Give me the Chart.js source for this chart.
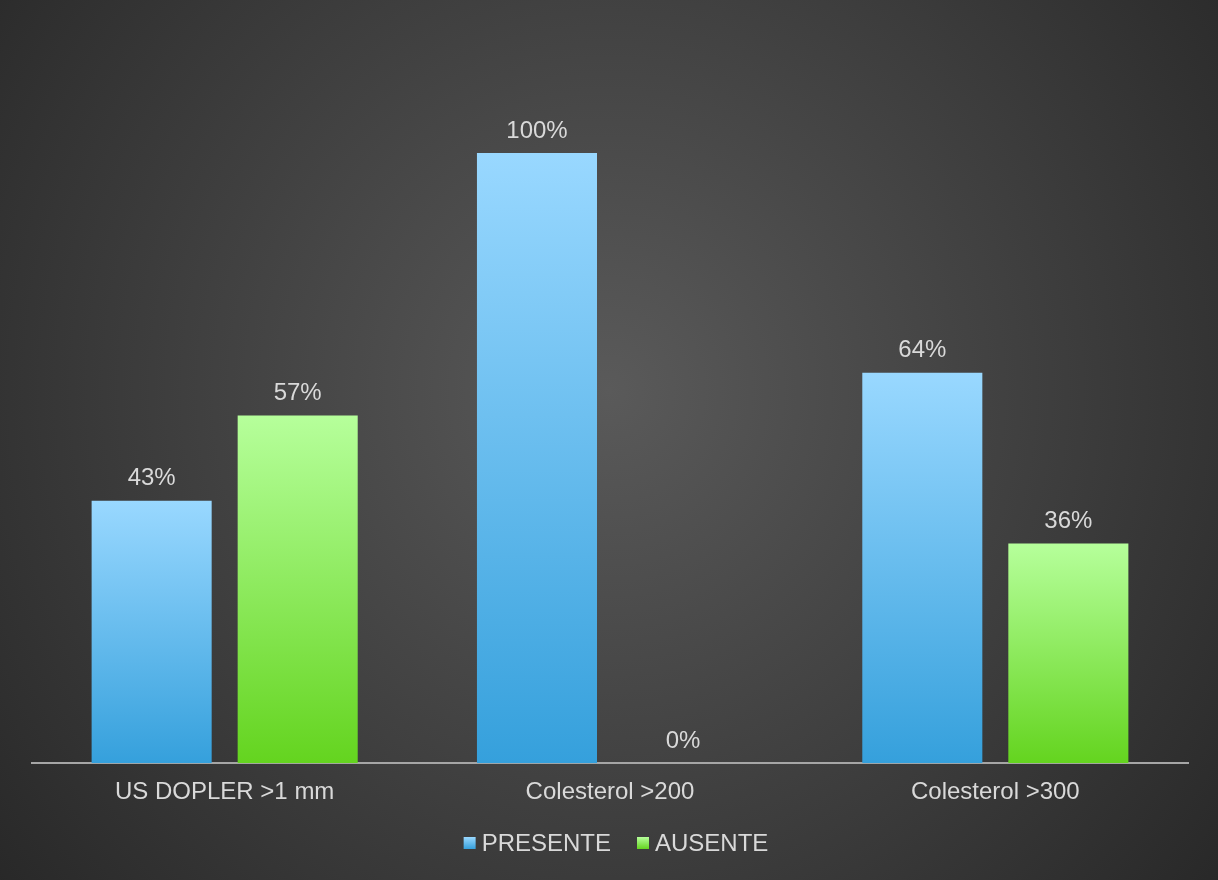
<!DOCTYPE html>
<html>
<head>
<meta charset="utf-8">
<script src="https://cdn.jsdelivr.net/npm/chart.js@4.4.0/dist/chart.umd.min.js"></script>
<style>
  body { margin: 0; background: #2a2a2a; }
  #wrap { width: 1218px; height: 880px; }
</style>
</head>
<body>
<div id="wrap"><canvas id="myChart" width="1218" height="880"></canvas></div>
<script>
// chart data
var categories = ["US DOPLER >1 mm", "Colesterol >200", "Colesterol >300"];
var presente = [43, 100, 64];
var ausente = [57, 0, 36];
var seriesNames = ["PRESENTE", "AUSENTE"];

var textColor = "#d9d9d9";
var fontStr = "24px 'Liberation Sans', Arial, sans-serif";
var blueStops = ["#99d8ff", "#35a0dc"];
var greenStops = ["#b6ff9b", "#64d41f"];
Chart.defaults.font.family = "'Liberation Sans', Arial, sans-serif";
Chart.defaults.font.size = 24;
Chart.defaults.color = textColor;

// each bar gets its own top->bottom gradient
function barGradient(stops) {
  return function (ctx) {
    var chart = ctx.chart;
    if (!chart.chartArea || ctx.type !== "data") return stops[1];
    var y = chart.scales.y;
    var y0 = y.getPixelForValue(ctx.parsed ? ctx.parsed.y : 0);
    var y1 = y.getPixelForValue(0);
    if (!isFinite(y0) || y1 - y0 < 1) return stops[1];
    var g = chart.ctx.createLinearGradient(0, y0, 0, y1);
    g.addColorStop(0, stops[0]);
    g.addColorStop(1, stops[1]);
    return g;
  };
}

// dark radial background like the slide
var backgroundPlugin = {
  id: "bg",
  beforeDraw: function (chart) {
    var c = chart.ctx;
    var g = c.createRadialGradient(609, 390, 0, 609, 390, 820);
    g.addColorStop(0, "#5a5a5a");
    g.addColorStop(1, "#262626");
    c.save();
    c.fillStyle = g;
    c.fillRect(0, 0, chart.width, chart.height);
    c.restore();
  }
};

// percent labels above the bars + small legend at the bottom
var valueLabels = {
  id: "valueLabels",
  afterDatasetsDraw: function (chart) {
    var c = chart.ctx;
    c.save();
    c.font = fontStr;
    c.fillStyle = textColor;
    c.textAlign = "center";
    c.textBaseline = "middle";
    chart.data.datasets.forEach(function (ds, i) {
      chart.getDatasetMeta(i).data.forEach(function (bar, j) {
        c.fillText(ds.data[j] + "%", bar.x, bar.y - 22);
      });
    });
    c.restore();
  },
  afterDraw: function (chart) {
    var c = chart.ctx;
    var cy = 843;
    var gap = 26;
    c.save();
    c.font = fontStr;
    c.textBaseline = "middle";
    c.textAlign = "left";
    var allStops = [blueStops, greenStops];
    var widths = seriesNames.map(function (s) { return c.measureText(s).width; });
    var total = 0;
    widths.forEach(function (w, i) { total += 18 + w + (i ? gap : 0); });
    var x = 616 - total / 2;
    seriesNames.forEach(function (s, i) {
      var g = c.createLinearGradient(0, cy - 6, 0, cy + 6);
      g.addColorStop(0, allStops[i][0]);
      g.addColorStop(1, allStops[i][1]);
      c.fillStyle = g;
      c.fillRect(x, cy - 6, 12, 12);
      c.fillStyle = textColor;
      c.fillText(s, x + 18, cy + 1);
      x += 18 + widths[i] + gap;
    });
    c.restore();
  }
};

var chart = new Chart(document.getElementById("myChart"), {
  type: "bar",
  data: {
    labels: categories,
    datasets: [
      {
        label: seriesNames[0],
        data: presente,
        backgroundColor: barGradient(blueStops),
        categoryPercentage: 0.758,
        barPercentage: 0.822
      },
      {
        label: seriesNames[1],
        data: ausente,
        backgroundColor: barGradient(greenStops),
        categoryPercentage: 0.758,
        barPercentage: 0.822
      }
    ]
  },
  options: {
    responsive: false,
    animation: false,
    layout: { padding: { left: 32, right: 30, top: 31, bottom: 58 } },
    scales: {
      x: {
        grid: { display: false, drawTicks: false },
        border: { display: true, color: "#a6a6a6", width: 2 },
        ticks: { color: textColor, padding: 15, font: { size: 24 } }
      },
      y: {
        display: false,
        min: 0,
        max: 120
      }
    },
    plugins: {
      legend: { display: false },
      tooltip: { enabled: false }
    }
  },
  plugins: [backgroundPlugin, valueLabels]
});
</script>
</body>
</html>
